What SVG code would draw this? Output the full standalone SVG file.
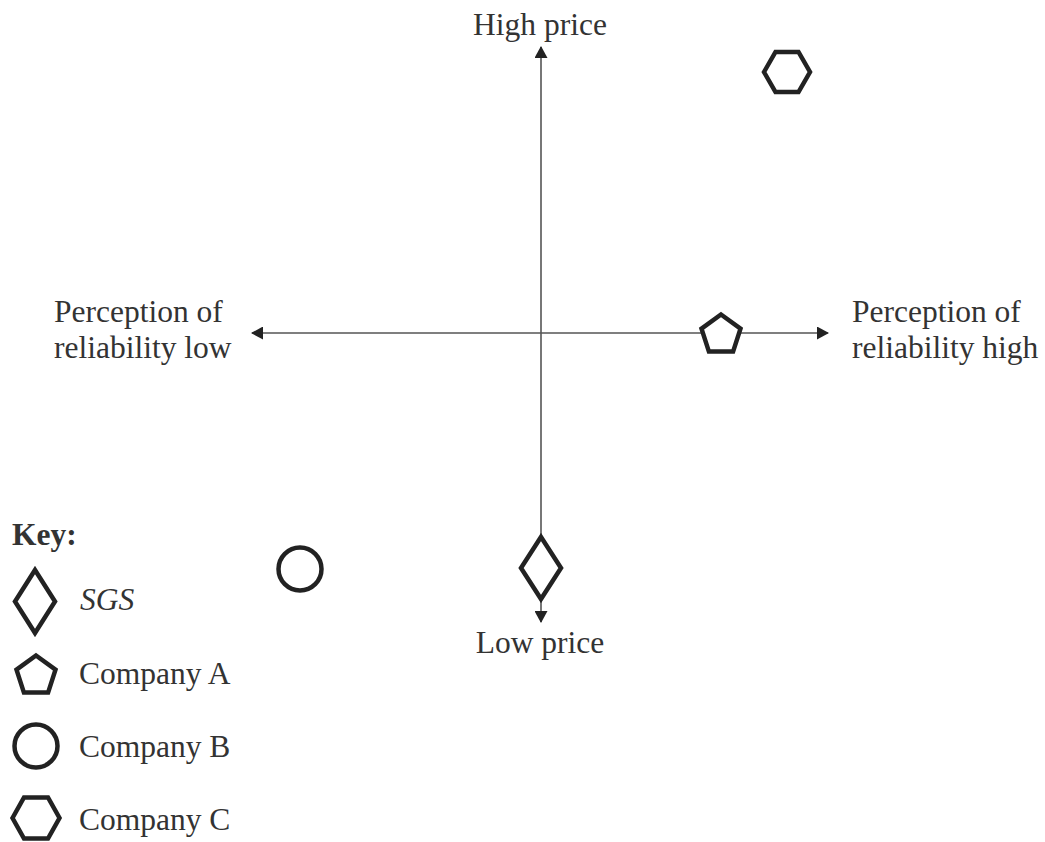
<svg xmlns="http://www.w3.org/2000/svg" width="1045" height="842" viewBox="0 0 1045 842">
<defs>
<style>
text{font-family:"Liberation Serif","Times New Roman",serif;font-size:31.5px;fill:#333}
.sym{fill:#fff;stroke:#222;stroke-width:4.5;stroke-linejoin:miter}
.axis{stroke:#555;stroke-width:1.6;fill:none}
</style>
<marker id="ah" markerWidth="12" markerHeight="13" refX="11" refY="6.5" orient="auto" markerUnits="userSpaceOnUse" viewBox="0 0 12 13">
<path d="M0,0 L12,6.5 L0,13 Z" fill="#222"/>
</marker>
</defs>
<rect width="1045" height="842" fill="#fff"/>
<g id="connectors">
<path class="axis" d="M541,333 L541,47" marker-end="url(#ah)"/>
<path class="axis" d="M541,333 L541,622" marker-end="url(#ah)"/>
<path class="axis" d="M541,333 L828,333" marker-end="url(#ah)"/>
<path class="axis" d="M541,333 L252,333" marker-end="url(#ah)"/>
</g>
<g id="axis-labels">
<text x="540" y="35" text-anchor="middle">High price</text>
<text x="540" y="653" text-anchor="middle">Low price</text>
<text x="852" y="322">Perception of</text>
<text x="852" y="358">reliability high</text>
<text x="54" y="322">Perception of</text>
<text x="54" y="358">reliability low</text>
</g>
<g id="sgs"><polygon class="sym" points="541,537 561,568 541,599 521,568"/></g>
<g id="company-a"><polygon class="sym" points="721,314.5 740.5,328.7 733.1,351.6 708.9,351.6 701.5,328.7"/></g>
<g id="company-b"><circle class="sym" cx="300" cy="569" r="21.5"/></g>
<g id="company-c"><polygon class="sym" points="764,72 775.5,52 798.5,52 810,72 798.5,92 775.5,92"/></g>
<g id="key">
<text x="12" y="545" font-weight="bold">Key:</text>
<polygon class="sym" points="35,570 55,601.5 35,633 15,601.5"/>
<text x="80" y="610" font-style="italic">SGS</text>
<polygon class="sym" points="36,655.5 55.5,669.7 48.1,692.6 23.9,692.6 16.5,669.7"/>
<text x="79" y="684">Company A</text>
<circle class="sym" cx="36" cy="746" r="21.5"/>
<text x="79" y="757">Company B</text>
<polygon class="sym" points="12.5,818 24,797.5 48,797.5 59.5,818 48,838.5 24,838.5"/>
<text x="79" y="830">Company C</text>
</g>
</svg>
